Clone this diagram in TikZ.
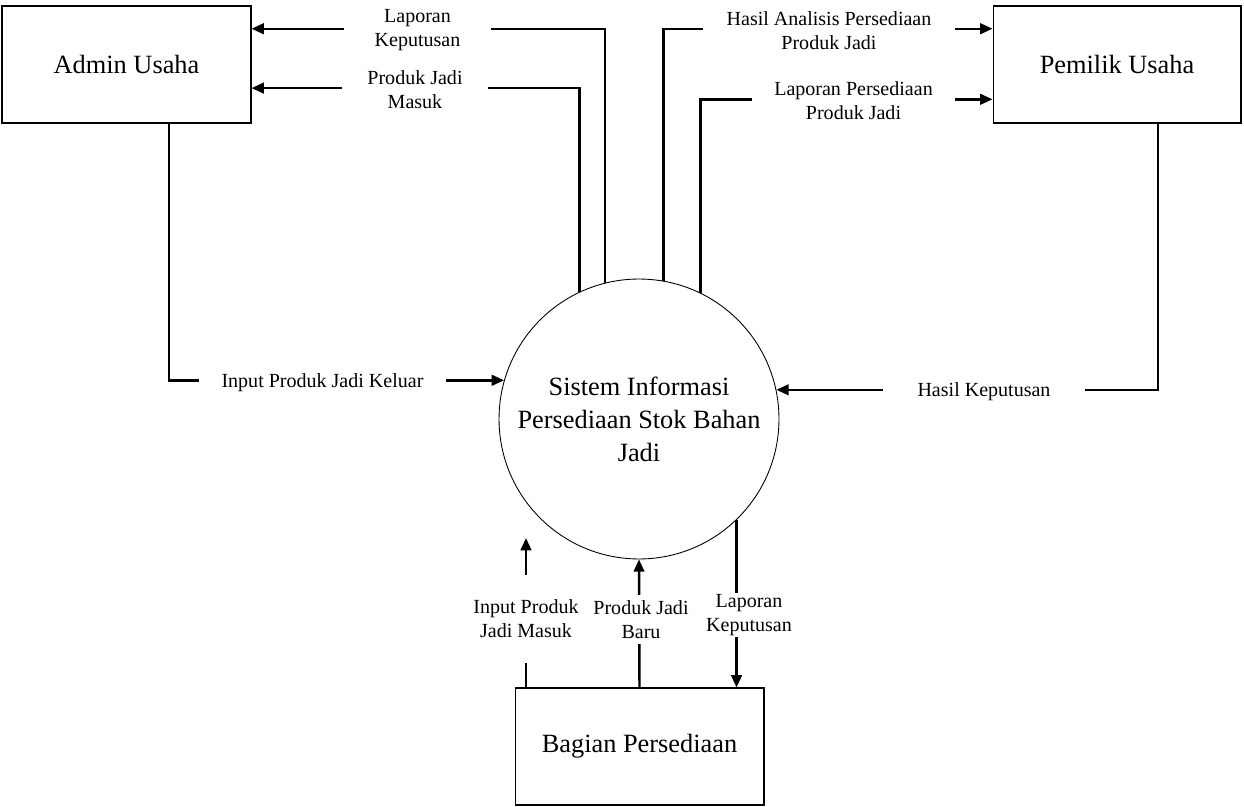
\documentclass[tikz,border=0pt]{standalone}
\usepackage{fontspec}
\setmainfont{Liberation Serif}
\usetikzlibrary{arrows.meta,calc}

\tikzset{
  entity/.style={draw,line width=0.6pt,minimum width=4.98cm,minimum height=2.34cm,
    inner sep=0pt,font=\fontsize{15}{18}\selectfont},
  process/.style={draw,circle,line width=0.5pt,minimum size=5.6cm,inner sep=0pt,
    align=center,font=\fontsize{15}{18.8}\selectfont},
  flow/.style={line width=1.4pt,-{Triangle[length=7pt,width=6pt]}},
  lbl/.style={fill=white,inner sep=0pt,align=center,font=\fontsize{11.4}{13.7}\selectfont}
}

\begin{document}
\begin{tikzpicture}[x=0.02cm,y=-0.02cm]
  \useasboundingbox (0,0) rectangle (1244,807);
  % entities and process
  \node[entity] (admin) at (126.5,64.5) {Admin Usaha};
  \node[entity,minimum width=4.96cm] (pemilik) at (1117,64.5) {Pemilik Usaha};
  \node[entity] (bagian) at (639.5,746.5) {\raisebox{-2pt}{Bagian Persediaan}};
  \node[process] (sis) at (639,419) {Sistem Informasi\\Persediaan Stok Bahan\\Jadi};
  \coordinate (ipm) at (526,538);

  % flows to admin usaha
  \draw[flow] (sis.104) |- ($(admin.north east)!0.197!(admin.south east)$);
  \draw[flow] (sis.115) |- ($(admin.north east)!0.70!(admin.south east)$);
  \node[lbl,minimum width=2.94cm,minimum height=0.2cm] (lk1) at (417.5,30.5) {Laporan\\Keputusan};
  \node[lbl,minimum width=2.92cm,minimum height=0.2cm] (pjm) at (415,89.5) {Produk Jadi\\Masuk};

  % flows to pemilik usaha
  \draw[flow] (sis.80) |- ($(pemilik.north west)!0.197!(pemilik.south west)$);
  \draw[flow] (sis.64) |- ($(pemilik.north west)!0.795!(pemilik.south west)$);
  \node[lbl,minimum width=5.04cm,minimum height=0.2cm] (hap) at (829,30.5) {Hasil Analisis Persediaan\\Produk Jadi};
  \node[lbl,minimum width=4.06cm,minimum height=0.2cm] (lpp) at (853.5,100.5) {Laporan Persediaan\\Produk Jadi};

  % flows into the process
  \draw[flow] ($(admin.south west)!0.67!(admin.south east)$) |- (sis.164);
  \node[lbl,minimum width=4.94cm,minimum height=0.2cm] (ipk) at (322.5,383) {Input Produk Jadi Keluar};
  \draw[flow] ($(pemilik.south west)!0.665!(pemilik.south east)$) |- (sis.12);
  \node[lbl,minimum width=4.04cm,minimum height=0.2cm] (hk) at (984,392) {Hasil Keputusan};

  % flows with bagian persediaan
  \draw[flow] (bagian.north -| ipm) -- (ipm);
  \node[lbl,minimum height=1.76cm] (ipjm) at (526,619) {Input Produk\\Jadi Masuk};
  \draw[flow] (bagian.north) -- (sis.south);
  \node[lbl,minimum height=0.98cm] (pjb) at (641,619.5) {Produk Jadi\\Baru};
  \draw[flow] (sis.-46) -- (sis.-46 |- bagian.north);
  \node[lbl,minimum height=0.9cm] (lk2) at (749,615) {Laporan\\Keputusan};
\end{tikzpicture}
\end{document}
